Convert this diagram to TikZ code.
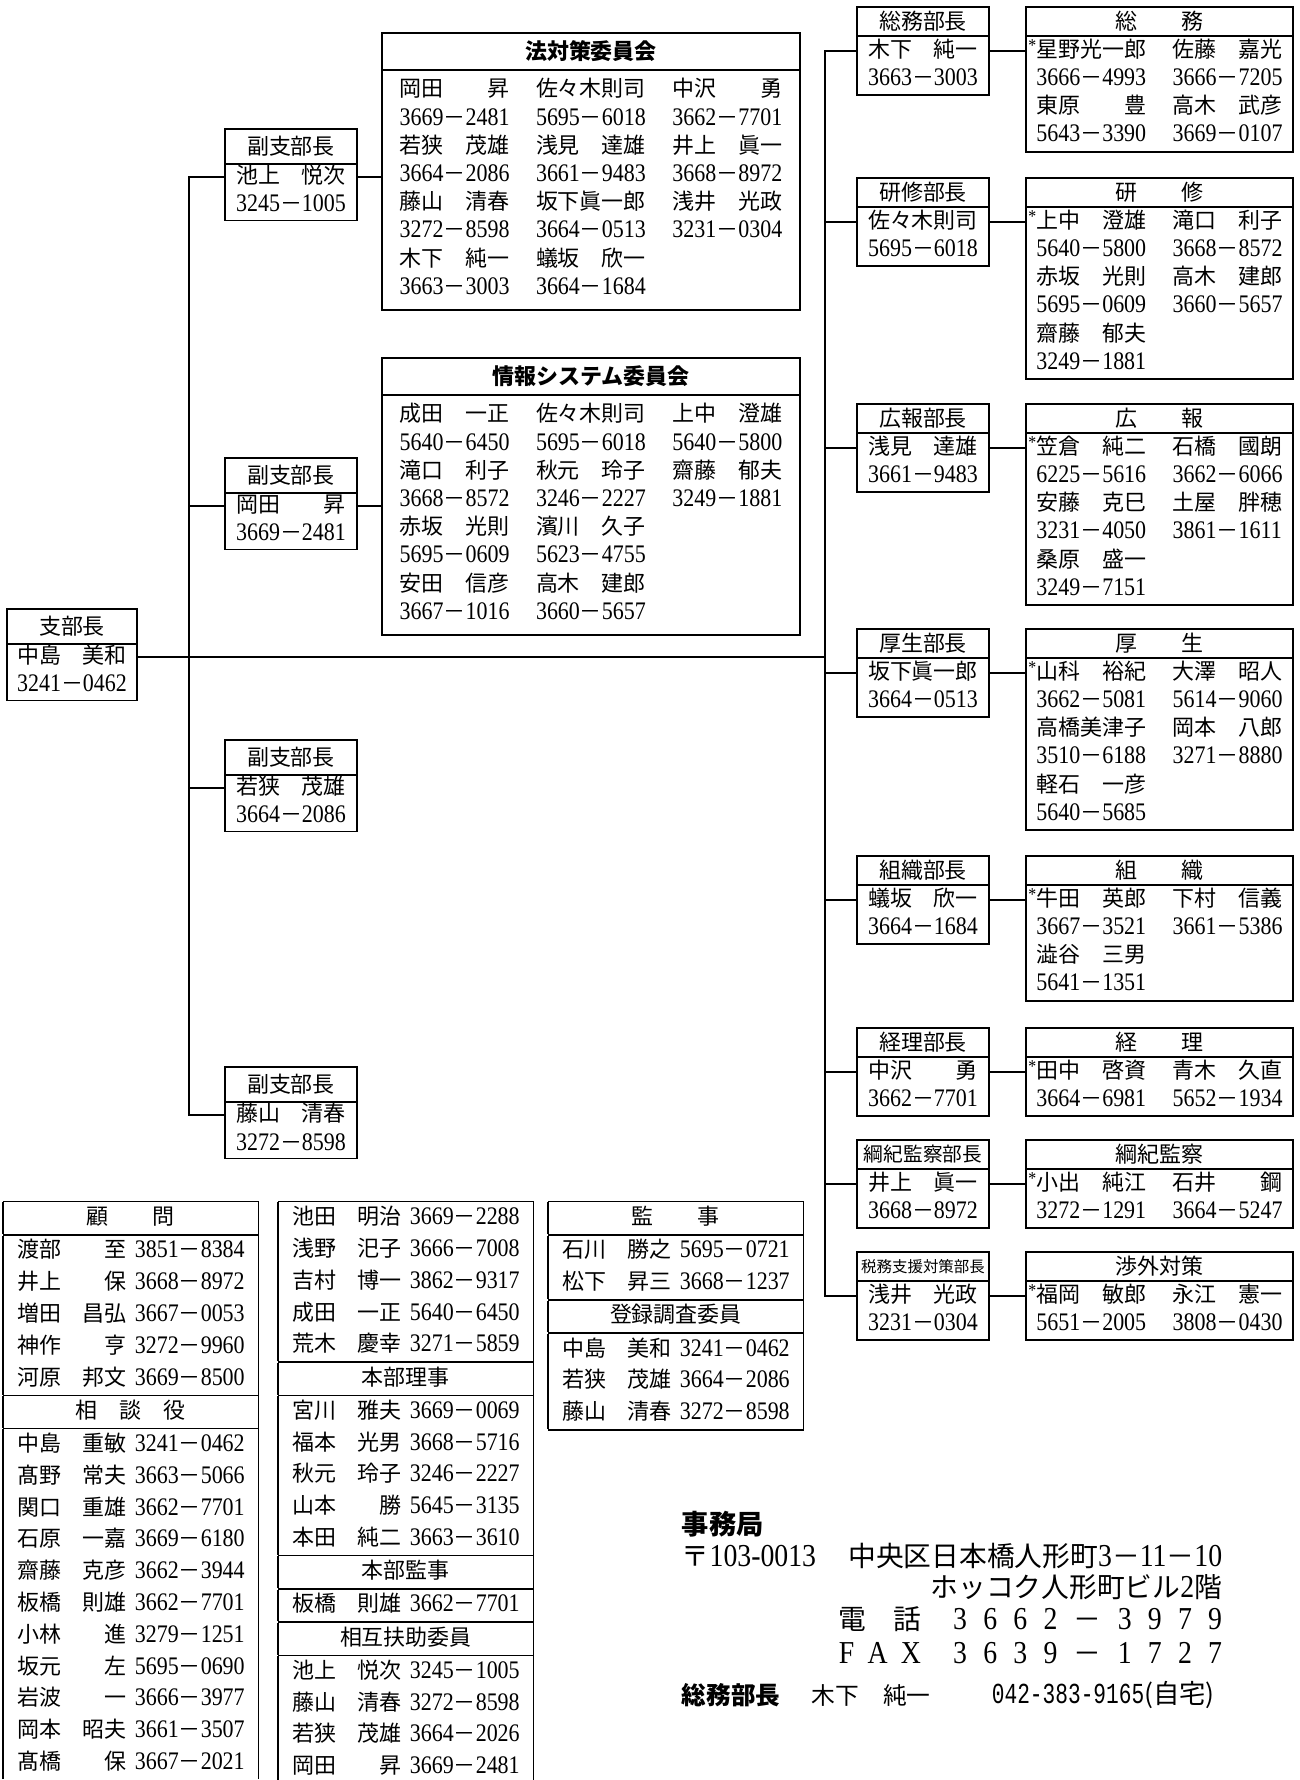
\documentclass[tikz,border=0pt]{standalone}
\usepackage{fontspec}
\setmainfont{Noto Sans CJK JP}
\newfontfamily\numf[Scale=1.15,FakeStretch=0.87]{Liberation Serif}
\newfontfamily\monof[FakeStretch=0.73]{Liberation Mono}
\usetikzlibrary{positioning}
\setlength\arrayrulewidth{0.8pt}
\setlength\tabcolsep{8pt}
\newcommand\nm[2]{\hbox to 5em{#1\hfill#2}}
\newcommand\tel[2]{{\numf#1}－{\numf#2}}
\newcommand\mk{\llap{\raisebox{.25em}{\numf\fontsize{9}{10}\selectfont *}}}
\newcommand\tb[4]{\nm{#1}{#2}\hspace{.16cm}\tel{#3}{#4}}
\newcommand\pr[2]{\begin{tabular}{@{}l@{}}#1\\#2\end{tabular}}
\newcommand\twocol[1]{\begin{tabular}{@{}l@{\hspace{.53cm}}l@{}}#1\end{tabular}}
\newcommand\threecol[1]{\begin{tabular}{@{}l@{\hspace{.53cm}}l@{\hspace{.53cm}}l@{}}#1\end{tabular}}

\begin{document}
\begin{tikzpicture}[x=0.02cm,y=-0.02cm,line width=1pt,line cap=rect,
  box/.style={draw,line width=1pt,inner sep=0pt,outer sep=0pt,font=\fontsize{12.5}{16.07}\selectfont},
  vhd/.style={box,minimum width=2.64cm,minimum height=0.7cm,anchor=north west},
  vbd/.style={box,minimum width=2.64cm},
  khd/.style={box,minimum width=2.64cm,minimum height=0.58cm,anchor=north west},
  kbd/.style={box,minimum width=2.64cm,inner ysep=0.8pt},
  mhd/.style={box,minimum width=5.34cm,minimum height=0.58cm},
  mbd/.style={box,minimum width=5.34cm,inner ysep=0.8pt},
  chd/.style={box,minimum width=8.36cm,minimum height=0.74cm,anchor=north west,font=\fontsize{12.5}{16.07}\selectfont\bfseries},
  cbd/.style={box,minimum width=8.36cm,minimum height=4.8cm},
  tbl/.style={inner sep=0pt,outer sep=0pt,anchor=north west,font=\fontsize{12.5}{18.1}\selectfont},
  ofc/.style={inner sep=0pt,font=\fontsize{15.8}{18}\selectfont}]
\fill[white] (0,0) rectangle (1299,1780);
\useasboundingbox (0,0) rectangle (1299,1780);

% branch chief and deputies
\node[vhd,minimum width=2.6cm] (sh) at (7,609) {支部長};
\node[vbd,minimum width=2.6cm,below=0pt of sh] (sb) {\pr{\nm{中島}{美和}}{\tel{3241}{0462}}};
\node[vhd] (fh1) at (225,129) {副支部長};
\node[vbd,below=0pt of fh1] (fb1) {\pr{\nm{池上}{悦次}}{\tel{3245}{1005}}};
\node[vhd] (fh2) at (225,458) {副支部長};
\node[vbd,below=0pt of fh2] (fb2) {\pr{\nm{岡田}{昇}}{\tel{3669}{2481}}};
\node[vhd] (fh3) at (225,740) {副支部長};
\node[vbd,below=0pt of fh3] (fb3) {\pr{\nm{若狭}{茂雄}}{\tel{3664}{2086}}};
\node[vhd] (fh4) at (225,1067) {副支部長};
\node[vbd,below=0pt of fh4] (fb4) {\pr{\nm{藤山}{清春}}{\tel{3272}{8598}}};

% committees
\node[chd] (hh) at (382,33) {法対策委員会};
\node[cbd,below=0pt of hh] (hb) {\threecol{
  \nm{岡田}{昇} & \nm{佐々木則司}{} & \nm{中沢}{勇}\\
  \tel{3669}{2481} & \tel{5695}{6018} & \tel{3662}{7701}\\
  \nm{若狭}{茂雄} & \nm{浅見}{達雄} & \nm{井上}{眞一}\\
  \tel{3664}{2086} & \tel{3661}{9483} & \tel{3668}{8972}\\
  \nm{藤山}{清春} & \nm{坂下眞一郎}{} & \nm{浅井}{光政}\\
  \tel{3272}{8598} & \tel{3664}{0513} & \tel{3231}{0304}\\
  \nm{木下}{純一} & \nm{蟻坂}{欣一} & \\
  \tel{3663}{3003} & \tel{3664}{1684} & }};
\node[chd] (jh) at (382,358) {情報システム委員会};
\node[cbd,below=0pt of jh] (jb) {\threecol{
  \nm{成田}{一正} & \nm{佐々木則司}{} & \nm{上中}{澄雄}\\
  \tel{5640}{6450} & \tel{5695}{6018} & \tel{5640}{5800}\\
  \nm{滝口}{利子} & \nm{秋元}{玲子} & \nm{齋藤}{郁夫}\\
  \tel{3668}{8572} & \tel{3246}{2227} & \tel{3249}{1881}\\
  \nm{赤坂}{光則} & \nm{濱川}{久子} & \\
  \tel{5695}{0609} & \tel{5623}{4755} & \\
  \nm{安田}{信彦} & \nm{高木}{建郎} & \\
  \tel{3667}{1016} & \tel{3660}{5657} & }};

% department heads and members
\node[khd] (kh1) at (857,7) {総務部長};
\node[kbd,below=0pt of kh1] (kb1) {\pr{\nm{木下}{純一}}{\tel{3663}{3003}}};
\node[mhd,right=0.74cm of kh1] (mh1) {総　　務};
\node[mbd,below=0pt of mh1] (mb1) {\twocol{
  \mk\nm{星野光一郎}{} & \nm{佐藤}{嘉光}\\
  \tel{3666}{4993} & \tel{3666}{7205}\\
  \nm{東原}{豊} & \nm{高木}{武彦}\\
  \tel{5643}{3390} & \tel{3669}{0107}}};

\node[khd] (kh2) at (857,178) {研修部長};
\node[kbd,below=0pt of kh2] (kb2) {\pr{\nm{佐々木則司}{}}{\tel{5695}{6018}}};
\node[mhd,right=0.74cm of kh2] (mh2) {研　　修};
\node[mbd,below=0pt of mh2] (mb2) {\twocol{
  \mk\nm{上中}{澄雄} & \nm{滝口}{利子}\\
  \tel{5640}{5800} & \tel{3668}{8572}\\
  \nm{赤坂}{光則} & \nm{高木}{建郎}\\
  \tel{5695}{0609} & \tel{3660}{5657}\\
  \nm{齋藤}{郁夫} & \\
  \tel{3249}{1881} & }};

\node[khd] (kh3) at (857,404) {広報部長};
\node[kbd,below=0pt of kh3] (kb3) {\pr{\nm{浅見}{達雄}}{\tel{3661}{9483}}};
\node[mhd,right=0.74cm of kh3] (mh3) {広　　報};
\node[mbd,below=0pt of mh3] (mb3) {\twocol{
  \mk\nm{笠倉}{純二} & \nm{石橋}{國朗}\\
  \tel{6225}{5616} & \tel{3662}{6066}\\
  \nm{安藤}{克巳} & \nm{土屋}{胖穂}\\
  \tel{3231}{4050} & \tel{3861}{1611}\\
  \nm{桑原}{盛一} & \\
  \tel{3249}{7151} & }};

\node[khd] (kh4) at (857,629) {厚生部長};
\node[kbd,below=0pt of kh4] (kb4) {\pr{\nm{坂下眞一郎}{}}{\tel{3664}{0513}}};
\node[mhd,right=0.74cm of kh4] (mh4) {厚　　生};
\node[mbd,below=0pt of mh4] (mb4) {\twocol{
  \mk\nm{山科}{裕紀} & \nm{大澤}{昭人}\\
  \tel{3662}{5081} & \tel{5614}{9060}\\
  \nm{高橋美津子}{} & \nm{岡本}{八郎}\\
  \tel{3510}{6188} & \tel{3271}{8880}\\
  \nm{軽石}{一彦} & \\
  \tel{5640}{5685} & }};

\node[khd] (kh5) at (857,856) {組織部長};
\node[kbd,below=0pt of kh5] (kb5) {\pr{\nm{蟻坂}{欣一}}{\tel{3664}{1684}}};
\node[mhd,right=0.74cm of kh5] (mh5) {組　　織};
\node[mbd,below=0pt of mh5] (mb5) {\twocol{
  \mk\nm{牛田}{英郎} & \nm{下村}{信義}\\
  \tel{3667}{3521} & \tel{3661}{5386}\\
  \nm{澁谷}{三男} & \\
  \tel{5641}{1351} & }};

\node[khd] (kh6) at (857,1028) {経理部長};
\node[kbd,below=0pt of kh6] (kb6) {\pr{\nm{中沢}{勇}}{\tel{3662}{7701}}};
\node[mhd,right=0.74cm of kh6] (mh6) {経　　理};
\node[mbd,below=0pt of mh6] (mb6) {\twocol{
  \mk\nm{田中}{啓資} & \nm{青木}{久直}\\
  \tel{3664}{6981} & \tel{5652}{1934}}};

\node[khd,font=\fontsize{11.2}{13}\selectfont] (kh7) at (857,1140) {綱紀監察部長};
\node[kbd,below=0pt of kh7] (kb7) {\pr{\nm{井上}{眞一}}{\tel{3668}{8972}}};
\node[mhd,right=0.74cm of kh7] (mh7) {綱紀監察};
\node[mbd,below=0pt of mh7] (mb7) {\twocol{
  \mk\nm{小出}{純江} & \nm{石井}{鋼}\\
  \tel{3272}{1291} & \tel{3664}{5247}}};

\node[khd,font=\fontsize{8.8}{10}\selectfont] (kh8) at (857,1252) {税務支援対策部長};
\node[kbd,below=0pt of kh8] (kb8) {\pr{\nm{浅井}{光政}}{\tel{3231}{0304}}};
\node[mhd,right=0.74cm of kh8] (mh8) {渉外対策};
\node[mbd,below=0pt of mh8] (mb8) {\twocol{
  \mk\nm{福岡}{敏郎} & \nm{永江}{憲一}\\
  \tel{5651}{2005} & \tel{3808}{0430}}};

% connectors
\coordinate (lx) at (189,0);
\coordinate (rx) at (825,0);
\coordinate (s0) at ([yshift=.3cm]sb.east);
\coordinate (f1) at ([yshift=.3cm]fb1.west);
\coordinate (f2) at ([yshift=.3cm]fb2.west);
\coordinate (f3) at ([yshift=.3cm]fb3.west);
\coordinate (f4) at ([yshift=.3cm]fb4.west);
\coordinate (k1) at ([yshift=.3cm]kb1.west);
\coordinate (k2) at ([yshift=.3cm]kb2.west);
\coordinate (k3) at ([yshift=.3cm]kb3.west);
\coordinate (k4) at ([yshift=.3cm]kb4.west);
\coordinate (k5) at ([yshift=.3cm]kb5.west);
\coordinate (k6) at ([yshift=.3cm]kb6.west);
\coordinate (k7) at ([yshift=.3cm]kb7.west);
\coordinate (k8) at ([yshift=.3cm]kb8.west);
\draw (s0) -- (s0 -| rx);
\draw (f1 -| lx) -- (f4 -| lx);
\draw (f1) -- (f1 -| lx);
\draw (f2) -- (f2 -| lx);
\draw (f3) -- (f3 -| lx);
\draw (f4) -- (f4 -| lx);
\draw (f1 -| fb1.east) -- (f1 -| hb.west);
\draw (f2 -| fb2.east) -- (f2 -| jb.west);
\draw (k1 -| rx) -- (k8 -| rx);
\draw (k1) -- (k1 -| rx); \draw (k1 -| kb1.east) -- (k1 -| mb1.west);
\draw (k2) -- (k2 -| rx); \draw (k2 -| kb2.east) -- (k2 -| mb2.west);
\draw (k3) -- (k3 -| rx); \draw (k3 -| kb3.east) -- (k3 -| mb3.west);
\draw (k4) -- (k4 -| rx); \draw (k4 -| kb4.east) -- (k4 -| mb4.west);
\draw (k5) -- (k5 -| rx); \draw (k5 -| kb5.east) -- (k5 -| mb5.west);
\draw (k6) -- (k6 -| rx); \draw (k6 -| kb6.east) -- (k6 -| mb6.west);
\draw (k7) -- (k7 -| rx); \draw (k7 -| kb7.east) -- (k7 -| mb7.west);
\draw (k8) -- (k8 -| rx); \draw (k8 -| kb8.east) -- (k8 -| mb8.west);

% lists at the bottom
\node[tbl] (adv) at (3,1201) {\begin{tabular}{|c|}\hline
  顧　　問\\\hline
  \tb{渡部}{至}{3851}{8384}\\
  \tb{井上}{保}{3668}{8972}\\
  \tb{増田}{昌弘}{3667}{0053}\\
  \tb{神作}{亨}{3272}{9960}\\
  \tb{河原}{邦文}{3669}{8500}\\\hline
  相　談　役\\\hline
  \tb{中島}{重敏}{3241}{0462}\\
  \tb{髙野}{常夫}{3663}{5066}\\
  \tb{関口}{重雄}{3662}{7701}\\
  \tb{石原}{一嘉}{3669}{6180}\\
  \tb{齋藤}{克彦}{3662}{3944}\\
  \tb{板橋}{則雄}{3662}{7701}\\
  \tb{小林}{進}{3279}{1251}\\
  \tb{坂元}{左}{5695}{0690}\\
  \tb{岩波}{一}{3666}{3977}\\
  \tb{岡本}{昭夫}{3661}{3507}\\
  \tb{髙橋}{保}{3667}{2021}
\end{tabular}};
\node[tbl] (hq) at (278,1201) {\begin{tabular}{|c|}\hline
  \tb{池田}{明治}{3669}{2288}\\
  \tb{浅野}{汜子}{3666}{7008}\\
  \tb{吉村}{博一}{3862}{9317}\\
  \tb{成田}{一正}{5640}{6450}\\
  \tb{荒木}{慶幸}{3271}{5859}\\\hline
  本部理事\\\hline
  \tb{宮川}{雅夫}{3669}{0069}\\
  \tb{福本}{光男}{3668}{5716}\\
  \tb{秋元}{玲子}{3246}{2227}\\
  \tb{山本}{勝}{5645}{3135}\\
  \tb{本田}{純二}{3663}{3610}\\\hline
  本部監事\\\hline
  \tb{板橋}{則雄}{3662}{7701}\\\hline
  相互扶助委員\\\hline
  \tb{池上}{悦次}{3245}{1005}\\
  \tb{藤山}{清春}{3272}{8598}\\
  \tb{若狭}{茂雄}{3664}{2026}\\
  \tb{岡田}{昇}{3669}{2481}
\end{tabular}};
\node[tbl] (aud) at (548,1201) {\begin{tabular}{|c|}\hline
  監　　事\\\hline
  \tb{石川}{勝之}{5695}{0721}\\
  \tb{松下}{昇三}{3668}{1237}\\\hline
  登録調査委員\\\hline
  \tb{中島}{美和}{3241}{0462}\\
  \tb{若狭}{茂雄}{3664}{2086}\\
  \tb{藤山}{清春}{3272}{8598}\\\hline
\end{tabular}};

% office
\node[ofc,anchor=west,font=\fontsize{15.5}{18}\selectfont\bfseries] (jm) at (681,1524) {事務局};
\node[ofc,anchor=west] (zip) at (681,1556) {〒{\numf 103-0013}};
\node[ofc,anchor=east] (ad1) at (1223,1556) {中央区日本橋人形町{\numf 3}－{\numf 11}－{\numf 10}};
\node[ofc,anchor=east] (ad2) at (1223,1587) {ホッコク人形町ビル{\numf 2}階};
\node[ofc,anchor=west] (tl) at (838,1619) {\makebox[1.64cm][s]{電 話}};
\node[ofc,anchor=east] (tn) at (1223,1619) {\makebox[5.38cm][s]{\numf 3 6 6 2 {\rmfamily －} 3 9 7 9}};
\node[ofc,anchor=west] (fl) at (838,1653) {\makebox[1.64cm][s]{\numf F A X}};
\node[ofc,anchor=east] (fn) at (1223,1653) {\makebox[5.38cm][s]{\numf 3 6 3 9 {\rmfamily －} 1 7 2 7}};
\node[ofc,anchor=west,font=\fontsize{14}{16}\selectfont\bfseries] (gc) at (681,1695) {総務部長};
\node[ofc,anchor=west,font=\fontsize{13.5}{16}\selectfont] (gn) at (811,1695) {\nm{木下}{純一}};
\node[ofc,anchor=west,font=\fontsize{15}{16}\selectfont] (gt) at (991,1695) {{\monof\fontsize{16.5}{16}\selectfont 042-383-9165}(自宅)};
\end{tikzpicture}
\end{document}
